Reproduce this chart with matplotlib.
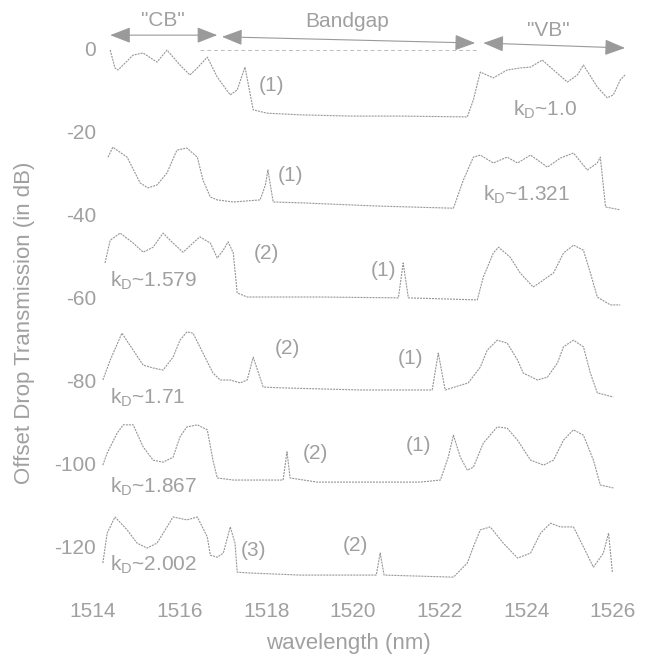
import matplotlib
matplotlib.use("Agg")
import matplotlib.pyplot as plt
import matplotlib.transforms as mtransforms

plt.rcParams['font.family'] = ['Liberation Sans', 'DejaVu Sans']
plt.rcParams['axes.unicode_minus'] = False
plt.rcParams['mathtext.fontset'] = 'custom'
plt.rcParams['mathtext.rm'] = 'Liberation Sans'
plt.rcParams['mathtext.it'] = 'Liberation Sans'

# traces (wavelength in nm, offset transmission in dB)
wl_1 = [1514.12, 1514.23, 1514.30, 1514.65, 1514.88, 1515.20, 1515.43, 1515.73, 1515.96, 1516.13,
        1516.36, 1516.59, 1516.89, 1517.05, 1517.23, 1517.42, 1517.74, 1518.5, 1519.66, 1520.81,
        1522.36, 1522.5, 1522.66, 1522.96, 1523.28, 1523.58, 1523.82, 1524.09, 1524.35, 1524.67,
        1524.90, 1525.04, 1525.36, 1525.59, 1525.73, 1525.89, 1526.0]
db_1 = [-0.5, -4.8, -5.3, -1.7, -1.2, -3.4, -0.5, -4.1, -6.5, -4.8,
        -2.2, -7.0, -11.3, -10.1, -4.6, -14.9, -15.7, -16.1, -16.4, -16.4,
        -16.6, -12.5, -5.8, -7.2, -5.3, -4.8, -4.6, -2.9, -5.3, -8.2,
        -6.5, -4.1, -9.4, -12.0, -11.3, -7.7, -6.5]

wl_2 = [1514.07, 1514.18, 1514.51, 1514.81, 1514.99, 1515.2, 1515.43, 1515.66, 1515.89, 1516.13,
        1516.26, 1516.43, 1516.59, 1516.96, 1517.58, 1517.7, 1517.76, 1517.88, 1518.5, 1520.35,
        1522.04, 1522.27, 1522.5, 1522.66, 1522.96, 1523.28, 1523.52, 1523.82, 1524.21, 1524.51,
        1524.81, 1525.13, 1525.36, 1525.43, 1525.55, 1525.89]
db_2 = [-26.3, -23.9, -26.3, -32.5, -33.7, -33.0, -30.1, -24.6, -24.1, -26.3,
        -31.8, -35.9, -36.6, -37.1, -36.6, -33.0, -29.4, -37.1, -37.3, -38.1,
        -38.6, -31.8, -26.3, -25.8, -27.7, -26.3, -27.7, -25.8, -28.7, -26.5,
        -25.3, -29.4, -27.7, -26.3, -38.3, -39.0]

wl_3 = [1514.0, 1514.12, 1514.35, 1514.65, 1514.88, 1515.11, 1515.34, 1515.57, 1515.8, 1516.03,
        1516.19, 1516.43, 1516.59, 1516.73, 1516.84, 1516.96, 1517.05, 1517.28, 1518.97, 1520.77,
        1520.88, 1521.0, 1522.59, 1522.73, 1522.96, 1523.08, 1523.35, 1523.58, 1523.88, 1524.05,
        1524.35, 1524.58, 1524.81, 1525.04, 1525.2, 1525.36, 1525.66, 1525.89]
db_3 = [-51.8, -46.3, -44.6, -47.0, -49.2, -48.0, -44.6, -47.0, -49.2, -47.0,
        -45.5, -47.0, -50.6, -48.7, -46.7, -49.4, -59.0, -60.0, -60.0, -60.2,
        -51.8, -60.2, -60.7, -55.2, -49.4, -48.0, -50.4, -54.2, -57.6, -56.4,
        -54.2, -49.4, -47.5, -48.7, -54.2, -60.0, -61.9, -61.9]

wl_4 = [1513.95, 1514.12, 1514.39, 1514.65, 1514.88, 1515.11, 1515.34, 1515.57, 1515.73, 1515.89,
        1516.03, 1516.26, 1516.49, 1516.66, 1516.89, 1517.12, 1517.28, 1517.42, 1517.65, 1518.11,
        1519.89, 1521.55, 1521.69, 1521.85, 1522.38, 1522.66, 1522.82, 1523.05, 1523.28, 1523.52,
        1523.65, 1523.98, 1524.21, 1524.44, 1524.58, 1524.81, 1525.04, 1525.2, 1525.36, 1525.73]
db_4 = [-80.0, -75.2, -68.7, -72.8, -76.4, -77.1, -77.6, -74.5, -70.4, -68.4,
        -68.7, -73.5, -78.3, -80.0, -80.0, -80.7, -80.0, -74.5, -81.7, -81.9,
        -82.4, -82.4, -73.5, -82.4, -80.7, -76.9, -72.8, -70.4, -71.1, -75.2,
        -78.3, -80.0, -79.3, -75.9, -72.0, -70.4, -72.0, -78.3, -83.1, -84.1]

wl_5 = [1513.95, 1514.05, 1514.28, 1514.42, 1514.65, 1514.88, 1515.11, 1515.34, 1515.57, 1515.73,
        1515.89, 1516.13, 1516.36, 1516.49, 1516.59, 1516.96, 1517.74, 1518.11, 1518.2, 1518.27,
        1518.9, 1521.27, 1521.74, 1521.92, 1522.04, 1522.2, 1522.36, 1522.5, 1522.73, 1523.05,
        1523.28, 1523.52, 1523.82, 1524.12, 1524.35, 1524.58, 1524.81, 1525.04, 1525.27, 1525.43,
        1525.73]
db_5 = [-100.5, -97.6, -92.8, -90.8, -90.8, -96.1, -99.3, -99.8, -98.6, -93.7,
        -91.3, -90.8, -92.0, -99.3, -103.6, -104.1, -104.1, -104.1, -97.3, -103.6,
        -104.6, -104.6, -104.1, -98.6, -93.3, -98.6, -101.7, -101.0, -95.2, -91.3,
        -91.6, -94.5, -99.3, -100.5, -99.3, -94.5, -92.0, -93.3, -99.3, -105.3,
        -106.0]

wl_6 = [1513.95, 1514.05, 1514.23, 1514.51, 1514.74, 1514.97, 1515.2, 1515.43, 1515.57, 1515.89,
        1516.13, 1516.36, 1516.43, 1516.59, 1516.73, 1516.89, 1517.0, 1517.05, 1517.35, 1518.5,
        1520.26, 1520.35, 1520.44, 1522.04, 1522.36, 1522.5, 1522.66, 1522.89, 1523.19, 1523.52,
        1523.82, 1524.05, 1524.28, 1524.51, 1524.81, 1525.04, 1525.27, 1525.5, 1525.62, 1525.71]
db_6 = [-124.1, -116.9, -113.0, -116.1, -119.3, -120.5, -119.3, -115.4, -113.0, -113.7,
        -113.0, -117.8, -122.2, -122.7, -121.7, -115.4, -119.3, -126.3, -126.5, -127.0,
        -127.0, -121.7, -127.0, -127.5, -124.1, -120.2, -116.1, -115.4, -119.3, -122.9,
        -121.7, -116.9, -114.5, -115.4, -115.4, -120.2, -125.1, -121.7, -116.9, -126.5]

# coupling labels
kd_values = ['1.0', '1.321', '1.579', '1.71', '1.867', '2.002']
kd_x = [1523.42, 1522.73, 1514.12, 1514.12, 1514.12, 1514.12]
kd_y = [-15.0, -35.4, -56.0, -84.3, -105.8, -124.6]

# mode order labels
mode_text = ['(1)', '(1)', '(2)', '(1)', '(2)', '(1)', '(2)', '(1)', '(3)', '(2)']
mode_x = [1517.85, 1518.27, 1517.72, 1520.42, 1518.2, 1521.04, 1518.85, 1521.23, 1517.42, 1519.77]
mode_y = [-9.0, -30.6, -49.4, -53.7, -72.3, -74.7, -97.6, -95.7, -121.0, -119.8]

# band regions marked on top
band_names = ['"CB"', 'Bandgap', '"VB"']
band_start = [1514.12, 1516.7, 1522.73]
band_end = [1516.59, 1522.54, 1526.0]
band_y0 = [3.1, 2.7, 1.2]
band_y1 = [3.1, 1.2, 0.0]
band_text_x = [1515.34, 1519.59, 1524.23]
band_text_y = [6.7, 6.3, 4.3]

ref_x = [1516.2, 1522.6]
ref_y = [-0.5, -0.5]

yticks = [0, -20, -40, -60, -80, -100, -120]
xticks = [1514, 1516, 1518, 1520, 1522, 1524, 1526]

line_c = '#959595'
text_c = '#a0a0a0'
fs = 15

fig = plt.figure(figsize=(6.48, 6.56), dpi=100)
ax = fig.add_axes([0.1353, 0.0854, 0.856, 0.911])

traces = [(wl_1, db_1), (wl_2, db_2), (wl_3, db_3), (wl_4, db_4), (wl_5, db_5), (wl_6, db_6)]
for wl, db in traces:
    ax.plot(wl, db, color=line_c, lw=0.8, linestyle=(0, (1.8, 0.9)))

ax.plot(ref_x, ref_y, color='#bdbdbd', lw=0.7, linestyle=(0, (4, 3)))

for i in range(len(band_names)):
    ax.annotate('', xy=(band_end[i], band_y1[i]), xytext=(band_start[i], band_y0[i]),
                arrowprops=dict(arrowstyle='<|-|>,head_length=0.9,head_width=0.35',
                                color='#9a9a9a', lw=0.8, mutation_scale=14,
                                shrinkA=0, shrinkB=0))
    ax.text(band_text_x[i], band_text_y[i], band_names[i], color=text_c, fontsize=fs,
            ha='center', va='center')

for i in range(len(kd_values)):
    ax.text(kd_x[i], kd_y[i], r'k$_{\mathrm{D}}$~' + kd_values[i], color=text_c,
            fontsize=fs, ha='left', va='center')

for i in range(len(mode_text)):
    ax.text(mode_x[i], mode_y[i], mode_text[i], color=text_c, fontsize=fs,
            ha='center', va='center')

ax.set_xlim(1513.6, 1526.4)
ax.set_ylim(-133, 11)
ax.set_xticks(xticks)
ax.set_yticks(yticks)
ax.tick_params(length=0, labelsize=fs, labelcolor=text_c)
ax.tick_params(axis='x', pad=1.5)
ax.tick_params(axis='y', pad=-6)
for s in ax.spines.values():
    s.set_visible(False)

shift = mtransforms.ScaledTranslation(-12 / 100, 0, fig.dpi_scale_trans)
for lab in ax.get_xticklabels():
    lab.set_transform(lab.get_transform() + shift)

fig.text(25 / 648, 1 - 323 / 656, 'Offset Drop Transmission (in dB)', rotation=90,
         color=text_c, fontsize=16, ha='center', va='center')
fig.text(348 / 648, 1 - 643 / 656, 'wavelength (nm)', color=text_c, fontsize=16,
         ha='center', va='center')

fig.savefig('out.png', dpi=100)
